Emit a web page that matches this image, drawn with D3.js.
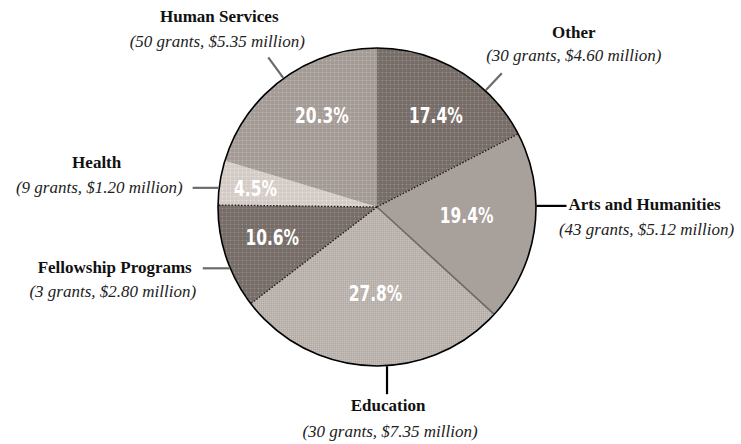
<!DOCTYPE html>
<html>
<head>
<meta charset="utf-8">
<script src="https://cdn.jsdelivr.net/npm/d3@7"></script>
<style>
  html, body { margin: 0; padding: 0; background: #fff; }
  svg { display: block; }
</style>
</head>
<body>
<svg id="chart" width="741" height="444"></svg>
<script>
// ---- data ----
const categories = ["Other", "Arts and Humanities", "Education", "Fellowship Programs", "Health", "Human Services"];
const grants = [30, 43, 30, 3, 9, 50];
const amounts = [4.60, 5.12, 7.35, 2.80, 1.20, 5.35];   // $ million
const percents = [17.4, 19.4, 27.8, 10.6, 4.5, 20.3];

// ---- layout / style (not data) ----
const W = 741, H = 444, cx = 377, cy = 207, R = 159;
const fills = ["url(#pOther)", "#a8a09b", "url(#pEdu)", "url(#pFellow)", "url(#pHealth)", "url(#pHuman)"];
// boundary at each slice's start angle: style
const boundary = ["none", "dot", "solid", "dot", "dot", "none"];
// percent label placement: [angle deg, radius]
const pctPos = [[32.7, 109], [95, 90], [181, 86], [254, 109], [279, 123], [329, 107]];
// leader lines: angle on circle, length, direction, colour; text offsets relative to leader end
const leaders = [
  {a: 43,    len: 24, dir: "radial", color: "#6b6b6b", t: [72, -35, "middle"], s: [72, -12, "middle"]},
  {a: 89.6,  len: 30, dir: "right",  color: "#000",    t: [2, 4, "start"],     s: [80, 29, "middle"]},
  {a: 176.4, len: 28, dir: "down",   color: "#000",    t: [1, 17, "middle"],   s: [3, 43, "middle"]},
  {a: 247.4, len: 27, dir: "left",   color: "#6b6b6b", t: [-11, 5, "end"],     s: [-90, 29, "middle"]},
  {a: 276.9, len: 26, dir: "left",   color: "#6b6b6b", t: [-96, -20, "middle"], s: [-10, 5, "end"]},
  {a: 324,   len: 26, dir: "radial", color: "#6b6b6b", t: [-49, -35, "middle"], s: [-51, -10, "middle"]}
];

const svg = d3.select("#chart");
const defs = svg.append("defs");

function dotPattern(id, base, line, dot) {
  const p = defs.append("pattern").attr("id", id).attr("patternUnits", "userSpaceOnUse")
    .attr("width", 4).attr("height", 4);
  p.append("rect").attr("width", 4).attr("height", 4).attr("fill", base);
  p.append("rect").attr("x", 1).attr("y", 0).attr("width", 1).attr("height", 4).attr("fill", line);
  p.append("rect").attr("x", 0).attr("y", 1).attr("width", 4).attr("height", 1).attr("fill", line);
  p.append("rect").attr("x", 1).attr("y", 1).attr("width", 1).attr("height", 1).attr("fill", dot);
}
dotPattern("pOther", "#766d68", "#7e7570", "#9d948f");
dotPattern("pFellow", "#766d68", "#7e7570", "#9b928d");
dotPattern("pHuman", "#a49b96", "#aaa29d", "#c2bab5");
dotPattern("pHealth", "#d4cbc6", "#d9d1cc", "#ebe5e1");
(function () {
  const p = defs.append("pattern").attr("id", "pEdu").attr("patternUnits", "userSpaceOnUse")
    .attr("width", 2).attr("height", 2);
  p.append("rect").attr("width", 2).attr("height", 2).attr("fill", "#bcb4af");
  p.append("rect").attr("x", 0).attr("y", 0).attr("width", 1).attr("height", 1).attr("fill", "#b0a8a3");
  p.append("rect").attr("x", 1).attr("y", 1).attr("width", 1).attr("height", 1).attr("fill", "#c7bfba");
})();

const pie = d3.pie().sort(null).value(d => d.p);
const data = categories.map((c, i) => ({c, g: grants[i], m: amounts[i], p: percents[i], i}));
const arcs = pie(data);
const arc = d3.arc().innerRadius(0).outerRadius(R);

const g = svg.append("g").attr("transform", `translate(${cx},${cy})`);

g.selectAll("path.slice").data(arcs).join("path")
  .attr("class", "slice")
  .attr("d", arc)
  .attr("fill", d => fills[d.data.i])
  .attr("stroke", d => fills[d.data.i] === "#a8a09b" ? "#a8a09b" : "none")
  .attr("stroke-width", 0.3);

// boundaries
const pt = (aDeg, r) => {
  const a = aDeg * Math.PI / 180;
  return [r * Math.sin(a), -r * Math.cos(a)];
};
arcs.forEach(d => {
  const st = boundary[d.data.i];
  if (st === "none") return;
  const [x, y] = [R * Math.sin(d.startAngle), -R * Math.cos(d.startAngle)];
  g.append("line").attr("x1", 0).attr("y1", 0).attr("x2", x).attr("y2", y)
    .attr("stroke", st === "solid" ? "#6e6763" : "#1a1a1a")
    .attr("stroke-width", st === "solid" ? 1.6 : 1.3)
    .attr("stroke-dasharray", st === "solid" ? null : "1.6,1.6");
});

// outline
g.append("circle").attr("r", R).attr("fill", "none").attr("stroke", "#000").attr("stroke-width", 1.6);

// percent labels
arcs.forEach(d => {
  const [a, r] = pctPos[d.data.i];
  const [x, y] = pt(a, r);
  g.append("g").attr("transform", `translate(${x},${y}) scale(0.8,1)`)
    .append("text")
    .attr("text-anchor", "middle")
    .attr("dy", "0.36em")
    .attr("fill", "#fff")
    .style("font-family", "'DejaVu Sans Condensed', 'DejaVu Sans', sans-serif")
    .style("font-weight", "bold")
    .style("font-stretch", "condensed")
    .style("font-size", "21.5px")
    .text(d3.format(".1f")(d.data.p) + "%");
});

// leaders and outer labels
const fmt = d3.format(".2f");
data.forEach((d, i) => {
  const L = leaders[i];
  const [x0, y0] = pt(L.a, R + 0.5);
  let x1, y1;
  if (L.dir === "radial") { [x1, y1] = pt(L.a, R + L.len); }
  else if (L.dir === "right") { x1 = x0 + L.len; y1 = y0; }
  else if (L.dir === "left") { x1 = x0 - L.len; y1 = y0; }
  else { x1 = x0; y1 = y0 + L.len; }
  g.append("line").attr("x1", x0).attr("y1", y0).attr("x2", x1).attr("y2", y1)
    .attr("stroke", L.color).attr("stroke-width", 2.2);
  g.append("text")
    .attr("x", x1 + L.t[0]).attr("y", y1 + L.t[1])
    .attr("text-anchor", L.t[2])
    .style("font-family", "'Liberation Serif', 'Times New Roman', serif")
    .style("font-weight", "bold")
    .style("font-size", "17px")
    .attr("fill", "#111")
    .text(d.c);
  g.append("text")
    .attr("x", x1 + L.s[0]).attr("y", y1 + L.s[1])
    .attr("text-anchor", L.s[2])
    .style("font-family", "'Liberation Serif', 'Times New Roman', serif")
    .style("font-style", "italic")
    .style("font-size", "17px")
    .attr("fill", "#222")
    .text(`(${d.g} grants, $${fmt(d.m)} million)`);
});
</script>
</body>
</html>
